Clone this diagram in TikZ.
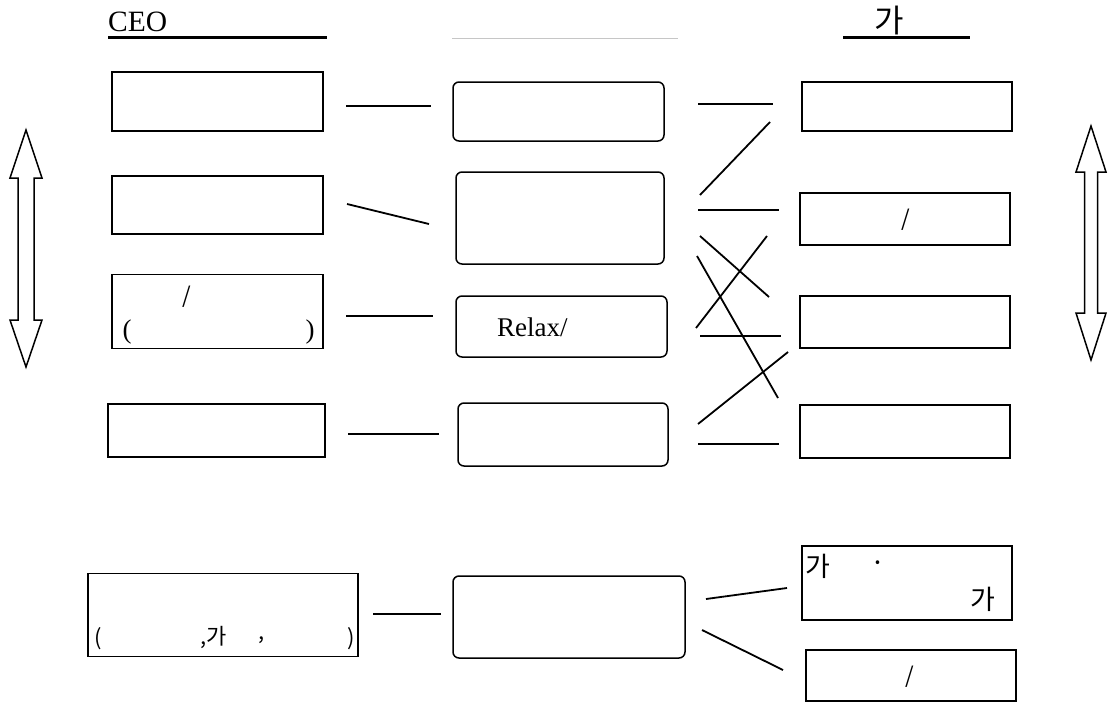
\documentclass[tikz,border=0pt]{standalone}
\usepackage{fontspec}
\setmainfont{Liberation Serif}
\newfontfamily\krfont{Noto Sans CJK KR}

\begin{document}
\begin{tikzpicture}[x=1pt, y=-1pt,
  every node/.style={inner sep=0pt},
  sqbox/.style={draw, line width=1.5pt, rectangle},
  rdbox/.style={draw, line width=1.5pt, rounded corners=6pt},
  link/.style={line width=1.8pt},
  lat/.style={font=\fontsize{27}{30}\selectfont},
  kr/.style={font=\krfont\fontsize{27}{30}\selectfont},
  krs/.style={font=\krfont\fontsize{22}{24}\selectfont}]
\useasboundingbox (0,0) rectangle (1113,702);

% headings
\node[lat, font=\fontsize{29.5}{32}\selectfont, anchor=base west] (hCEO) at (108,31) {CEO};
\draw[line width=3pt] (108,37) -- (327,37);
\draw[gray!45, line width=1pt] (452,38) -- (678,38);
\node[kr, font=\krfont\fontsize{32}{34}\selectfont] (hGa) at (889,20) {가};
\draw[line width=3pt] (843,37) -- (970,37);

% left column
\node[sqbox, minimum width=211pt, minimum height=59pt] (lA) at (217.5,101.5) {};
\node[sqbox, minimum width=211pt, minimum height=58pt] (lB) at (217.5,205) {};
\node[sqbox, minimum width=211pt, minimum height=74pt] (lC) at (217.5,311.5) {};
\node[sqbox, minimum width=217pt, minimum height=53pt] (lD) at (216.5,430.5) {};
\node[sqbox, minimum width=270pt, minimum height=83pt] (lE) at (223,615) {};
\node[krs] (lCslash) at (187,297) {/};
\node[lat] (lCopen) at (127,332) {(};
\node[lat] (lCclose) at (310,332) {)};
\node[krs] (lEopen) at (98,639) {(};
\node[krs, anchor=west] (lEga) at (200,637) {,가};
\node[krs] (lEcomma) at (262,640) {,};
\node[krs] (lEclose) at (351,639) {)};

% middle column
\node[rdbox, minimum width=211pt, minimum height=59pt] (mA) at (558.5,111.5) {};
\node[rdbox, minimum width=208pt, minimum height=92pt] (mB) at (560,218) {};
\node[rdbox, minimum width=211pt, minimum height=61pt] (mC) at (561.5,326.5) {};
\node[rdbox, minimum width=210pt, minimum height=63pt] (mD) at (563,434.5) {};
\node[rdbox, minimum width=232pt, minimum height=82pt] (mE) at (569,617) {};
\node[lat, anchor=west] (mCtext) at (497,327) {Relax/};

% right column
\node[sqbox, minimum width=210pt, minimum height=49pt] (rA) at (907,106.5) {};
\node[sqbox, minimum width=210pt, minimum height=52pt] (rB) at (905,219) {};
\node[sqbox, minimum width=210pt, minimum height=52pt] (rC) at (905,322) {};
\node[sqbox, minimum width=210pt, minimum height=53pt] (rD) at (905,431.5) {};
\node[sqbox, minimum width=210pt, minimum height=74pt] (rE) at (907,583) {};
\node[sqbox, minimum width=210pt, minimum height=51pt] (rF) at (911,675.5) {};
\node[krs] (rBslash) at (906,220) {/};
\node[kr] (rEga1) at (818,566) {가};
\node[kr] (rEdot) at (878,567) {·};
\node[kr] (rEga2) at (983,599) {가};
\node[krs] (rFslash) at (910,677) {/};

% link ends
\coordinate (a1) at (346,106);  \coordinate (a2) at (431,106);
\coordinate (b1) at (347,204);  \coordinate (b2) at (429,224);
\coordinate (c1) at (346,316);  \coordinate (c2) at (433,316);
\coordinate (d1) at (348,434);  \coordinate (d2) at (439,434);
\coordinate (e1) at (373,614);  \coordinate (e2) at (441,614);
\coordinate (f1) at (698,104);  \coordinate (f2) at (773,104);
\coordinate (g1) at (700,195);  \coordinate (g2) at (770,122);
\coordinate (h1) at (698,210);  \coordinate (h2) at (779,210);
\coordinate (i1) at (700,236);  \coordinate (i2) at (769,297);
\coordinate (j1) at (696,328);  \coordinate (j2) at (767,236);
\coordinate (k1) at (697,256);  \coordinate (k2) at (778,398);
\coordinate (m1) at (700,336);  \coordinate (m2) at (781,336);
\coordinate (n1) at (698,424);  \coordinate (n2) at (788,352);
\coordinate (o1) at (698,444);  \coordinate (o2) at (779,444);
\coordinate (p1) at (706,599);  \coordinate (p2) at (787,588);
\coordinate (q1) at (702,630);  \coordinate (q2) at (783,670);

\draw[link] (a1) -- (a2);
\draw[link] (b1) -- (b2);
\draw[link] (c1) -- (c2);
\draw[link] (d1) -- (d2);
\draw[link] (e1) -- (e2);
\draw[link] (f1) -- (f2);
\draw[link] (g1) -- (g2);
\draw[link] (h1) -- (h2);
\draw[link] (i1) -- (i2);
\draw[link] (j1) -- (j2);
\draw[link] (k1) -- (k2);
\draw[link] (m1) -- (m2);
\draw[link] (n1) -- (n2);
\draw[link] (o1) -- (o2);
\draw[link] (p1) -- (p2);
\draw[link] (q1) -- (q2);

% double arrows
\draw[line width=1.5pt] (26,130) -- (10,178) -- (18,178) -- (18,320) -- (10,320)
  -- (26,367) -- (42,320) -- (34,320) -- (34,178) -- (42,178) -- cycle;
\draw[line width=1.5pt] (1091,126) -- (1076,172) -- (1084.5,172) -- (1084.5,313) -- (1076,313)
  -- (1091,360) -- (1106,313) -- (1097.5,313) -- (1097.5,172) -- (1106,172) -- cycle;
\end{tikzpicture}
\end{document}
